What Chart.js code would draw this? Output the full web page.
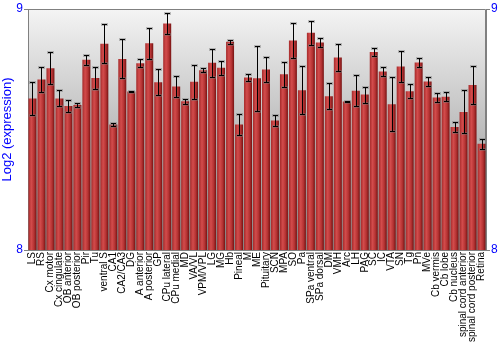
<!DOCTYPE html>
<html>
<head>
<meta charset="utf-8">
<script src="https://cdn.jsdelivr.net/npm/chart.js@4.4.0/dist/chart.umd.min.js"></script>
<style>
  html, body { margin: 0; padding: 0; background: #fff; }
  #wrap { width: 500px; height: 350px; }
</style>
</head>
<body>
<div id="wrap"><canvas id="chart"></canvas></div>
<script>
const regions = [
  'LS', 'RS', 'Cx motor', 'Cx cingulate', 'OB anterior', 'OB posterior', 'Pir', 'Tu',
  'ventral S', 'CA1', 'CA2/CA3', 'DG', 'A anterior', 'A posterior', 'GP', 'CPu lateral',
  'CPu medial', 'MD', 'VA/VL', 'VPM/VPL', 'LG', 'MG', 'Hb', 'Pineal', 'M', 'ME',
  'Pituitary', 'SCN', 'MPA', 'SO', 'Pa', 'SPa ventral', 'SPa dorsal', 'DM', 'VMH', 'Arc',
  'LH', 'PAG', 'SC', 'IC', 'VTA', 'SN', 'Tg', 'Pn', 'MVe', 'Cb vermis', 'Cb lobe',
  'Cb nucleus', 'spinal cord anterior', 'spinal cord posterior', 'Retina'
];

const expression = [
  8.629, 8.707, 8.754, 8.629, 8.597, 8.602, 8.789, 8.714,
  8.856, 8.521, 8.793, 8.658, 8.775, 8.858, 8.696, 8.940,
  8.678, 8.617, 8.698, 8.746, 8.777, 8.756, 8.864, 8.521, 8.716, 8.713,
  8.749, 8.537, 8.729, 8.869, 8.663, 8.901, 8.861, 8.638, 8.799, 8.616,
  8.661, 8.645, 8.822, 8.741, 8.605, 8.761, 8.659, 8.778, 8.699, 8.633, 8.636,
  8.510, 8.573, 8.685, 8.441
];

const stdErr = [
  0.068, 0.053, 0.066, 0.033, 0.026, 0.008, 0.021, 0.046,
  0.080, 0.008, 0.081, 0.002, 0.017, 0.065, 0.054, 0.043,
  0.044, 0.010, 0.070, 0.008, 0.059, 0.030, 0.008, 0.044, 0.015, 0.135,
  0.052, 0.024, 0.053, 0.071, 0.099, 0.051, 0.018, 0.054, 0.055, 0.002,
  0.065, 0.033, 0.016, 0.020, 0.112, 0.064, 0.028, 0.020, 0.019, 0.019, 0.018,
  0.020, 0.089, 0.080, 0.021
];

const axisMin = 8;
const axisMax = 9;

// gray gradient behind the bars + top/right frame
const plotBackground = {
  id: 'plotBackground',
  beforeDraw(chart) {
    const { ctx, chartArea: a } = chart;
    if (!a) return;
    const g = ctx.createLinearGradient(0, a.top, 0, a.bottom);
    g.addColorStop(0, '#f4f4f4');
    g.addColorStop(1, '#868686');
    ctx.save();
    ctx.fillStyle = g;
    ctx.fillRect(a.left, a.top, a.right - a.left, a.bottom - a.top);
    ctx.strokeStyle = '#808080';
    ctx.lineWidth = 1;
    ctx.beginPath();
    ctx.moveTo(a.left, a.top + 0.5);
    ctx.lineTo(a.right - 0.5, a.top + 0.5);
    ctx.lineTo(a.right - 0.5, a.bottom);
    ctx.stroke();
    ctx.restore();
  }
};

const errorBars = {
  id: 'errorBars',
  afterDatasetsDraw(chart) {
    const { ctx } = chart;
    const y = chart.scales.y;
    const meta = chart.getDatasetMeta(0);
    ctx.save();
    meta.data.forEach((bar, i) => {
      const x = Math.round(bar.x) + 0.5;
      const top = Math.round(y.getPixelForValue(expression[i] + stdErr[i])) + 0.5;
      const bot = Math.round(y.getPixelForValue(expression[i] - stdErr[i])) + 0.5;
      ctx.fillStyle = 'rgba(120,120,120,0.45)';
      ctx.fillRect(x - 3.5, top - 1.5, 7, 3);
      ctx.fillRect(x - 3.5, bot - 1.5, 7, 3);
      ctx.strokeStyle = '#000';
      ctx.lineWidth = 1;
      ctx.beginPath();
      ctx.moveTo(x, top);
      ctx.lineTo(x, bot);
      ctx.moveTo(x - 2.5, top);
      ctx.lineTo(x + 2.5, top);
      ctx.moveTo(x - 2.5, bot);
      ctx.lineTo(x + 2.5, bot);
      ctx.stroke();
    });
    ctx.restore();
  }
};

function barFill(c) {
  const chart = c.chart;
  const xs = chart.scales.x;
  if (!chart.chartArea || !xs) return '#c03a3a';
  const cx = xs.getPixelForValue(c.dataIndex);
  const g = chart.ctx.createLinearGradient(cx - 4, 0, cx + 4, 0);
  g.addColorStop(0, '#a52a2a');
  g.addColorStop(0.35, '#d34c4c');
  g.addColorStop(0.7, '#b43232');
  g.addColorStop(1, '#751212');
  return g;
}

new Chart(document.getElementById('chart'), {
  type: 'bar',
  data: {
    labels: regions,
    datasets: [{
      data: expression,
      backgroundColor: barFill,
      borderWidth: 0,
      barPercentage: 0.89,
      categoryPercentage: 1
    }]
  },
  options: {
    responsive: true,
    maintainAspectRatio: false,
    animation: false,
    layout: { padding: { top: 9, left: 0, right: 0, bottom: 0 } },
    plugins: {
      legend: { display: false },
      tooltip: { enabled: false }
    },
    scales: {
      x: {
        grid: { display: false, drawTicks: false },
        border: { color: '#808080' },
        ticks: {
          autoSkip: false,
          minRotation: 90,
          maxRotation: 90,
          padding: 2,
          color: '#000',
          font: { family: 'Liberation Sans', size: 10 }
        },
        afterFit: s => { s.height = 100; }
      },
      y: {
        position: 'left',
        min: axisMin,
        max: axisMax,
        ticks: {
          stepSize: 1,
          padding: 1,
          color: '#0000ff',
          font: { family: 'Liberation Sans', size: 12 }
        },
        grid: { drawOnChartArea: false, tickLength: 4, color: '#808080' },
        border: { color: '#808080' },
        title: {
          display: true,
          text: 'Log2 (expression)',
          color: '#0000ff',
          padding: 0,
          font: { family: 'Liberation Sans', size: 13 }
        },
        afterFit: s => { s.width = 28; }
      },
      y2: {
        position: 'right',
        min: axisMin,
        max: axisMax,
        ticks: {
          stepSize: 1,
          padding: 1,
          color: '#0000ff',
          font: { family: 'Liberation Sans', size: 12 }
        },
        grid: { drawOnChartArea: false, tickLength: 4, color: '#808080' },
        border: { color: '#808080' },
        afterFit: s => { s.width = 14; }
      }
    }
  },
  plugins: [plotBackground, errorBars]
});
</script>
</body>
</html>
